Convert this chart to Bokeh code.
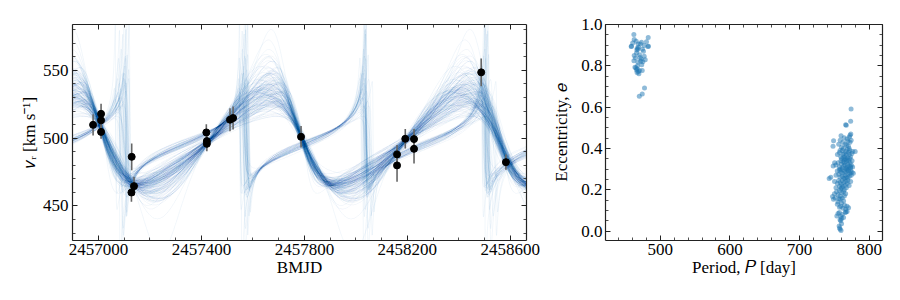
import numpy as np
from bokeh.plotting import figure
from bokeh.layouts import row
from bokeh.models import Range1d, LinearAxis, FixedTicker, PrintfTickFormatter, ColumnDataSource
from bokeh.embed import file_html
from bokeh.resources import INLINE

# ---------------- data ----------------
bmjd = [2456979, 2457010, 2457010, 2457010, 2457128, 2457129, 2457138,
        2457419, 2457421, 2457421, 2457511, 2457523, 2457787, 2458160,
        2458160, 2458192, 2458226, 2458226, 2458487, 2458583]
rv = [509.8, 517.9, 513.1, 504.6, 459.9, 486.2, 464.6,
      504.2, 497.8, 495.8, 513.6, 514.8, 501.0, 488.0,
      479.9, 499.5, 499.3, 492.1, 548.5, 482.3]
rv_err = [7.8, 7.5, 6.0, 5.0, 6.9, 9.9, 6.9,
          6.0, 5.0, 5.5, 8.5, 8.5, 8.0, 7.0,
          12.0, 7.2, 7.5, 10.9, 10.2, 5.6]

# posterior samples, long-period family
period_a = [773.9, 773.3, 766.1, 767.0, 759.5, 772.4, 771.5, 764.0, 773.5, 748.8, 748.0, 779.8, 758.3,
            762.1, 765.4, 768.2, 770.1, 772.3, 774.0, 760.2, 763.1, 767.4, 769.2, 771.1, 756.2,
            754.3, 757.2, 759.1, 761.4, 762.3, 764.2, 765.1, 766.4, 767.2, 768.3, 769.4, 770.2,
            771.3, 772.1, 773.2, 775.1, 760.3, 763.4, 766.2, 758.1, 776.2,
            752.1, 755.3, 757.1, 759.4, 760.1, 761.2, 762.4, 763.2, 764.3, 765.2, 766.3, 767.1,
            768.4, 769.1, 770.3, 771.2, 772.4, 773.1, 774.2, 775.3, 776.1, 758.4, 764.1, 768.1,
            770.4, 772.2, 748.2, 750.3,
            742.5, 744.8, 752.3, 754.1, 756.3, 758.2, 759.3, 760.4, 761.1, 762.2, 763.3, 764.4,
            765.3, 766.1, 767.3, 768.2, 769.3, 770.1, 771.4, 772.3, 773.2, 774.1, 757.3, 765.1,
            767.2, 769.1, 775.2, 777.1, 773.4,
            752.2, 754.2, 756.1, 757.4, 758.3, 759.2, 760.1, 761.3, 762.1, 763.4, 764.2, 765.3,
            766.2, 767.1, 768.3, 769.2, 771.1, 773.3, 750.2, 760.4,
            748.7, 747.3, 750.1, 751.2, 753.1, 755.2, 756.4, 757.2, 758.1, 760.3, 761.2, 763.1,
            764.3, 766.1, 758.4,
            754.2, 755.1, 757.3, 759.2, 760.1, 762.3, 763.2, 764.5, 770.3, 768.1, 766.2,
            753.5, 755.2, 757.1, 759.3, 761.2, 763.1, 765.5, 766.5, 768.2, 758.1, 760.2,
            758.2, 756.8, 759.1, 757.5, 760.2, 759.5]
ecc_a = [0.591, 0.531, 0.515, 0.512, 0.461, 0.464, 0.455, 0.452, 0.470, 0.437, 0.410, 0.385, 0.440,
         0.430, 0.420, 0.445, 0.410, 0.430, 0.440, 0.405, 0.400, 0.415, 0.435, 0.400, 0.420,
         0.370, 0.380, 0.360, 0.390, 0.370, 0.375, 0.360, 0.385, 0.370, 0.395, 0.355, 0.380,
         0.370, 0.390, 0.360, 0.375, 0.350, 0.355, 0.350, 0.390, 0.385,
         0.320, 0.330, 0.310, 0.340, 0.325, 0.305, 0.335, 0.315, 0.345, 0.320, 0.305, 0.335,
         0.310, 0.325, 0.340, 0.315, 0.330, 0.305, 0.320, 0.340, 0.310, 0.300, 0.330, 0.345,
         0.300, 0.350, 0.315, 0.330,
         0.254, 0.260, 0.270, 0.290, 0.275, 0.260, 0.285, 0.295, 0.265, 0.280, 0.255, 0.290,
         0.270, 0.285, 0.260, 0.295, 0.275, 0.290, 0.265, 0.280, 0.290, 0.270, 0.295, 0.255,
         0.300, 0.255, 0.285, 0.280, 0.310,
         0.210, 0.230, 0.245, 0.215, 0.235, 0.205, 0.225, 0.245, 0.215, 0.235, 0.200, 0.220,
         0.240, 0.210, 0.230, 0.245, 0.220, 0.240, 0.240, 0.210,
         0.154, 0.167, 0.180, 0.160, 0.190, 0.175, 0.155, 0.195, 0.170, 0.185, 0.160, 0.190,
         0.170, 0.180, 0.155,
         0.130, 0.140, 0.115, 0.120, 0.135, 0.110, 0.145, 0.125, 0.113, 0.120, 0.105,
         0.073, 0.085, 0.090, 0.070, 0.080, 0.065, 0.089, 0.092, 0.095, 0.055, 0.060,
         0.008, 0.024, 0.050, 0.015, 0.035, 0.003]

# posterior samples, short-period family
period_b = [462.2, 462.7, 465.6, 473.2, 480.3, 482.8, 458.8, 467.0, 468.0, 466.5, 469.0, 476.0,
            482.3, 477.0, 462.7, 470.3, 477.0, 472.7, 462.3, 468.0, 478.5, 463.7, 467.0, 470.3,
            465.0, 469.4, 474.2, 477.5, 474.2, 470.0, 458.4, 471.5, 474.5, 466.0, 464.5, 472.0,
            466.8, 468.5, 475.0, 460.5, 483.2, 468.2, 471.0, 467.5, 473.5, 466.0]
ecc_b = [0.951, 0.927, 0.919, 0.914, 0.917, 0.937, 0.895, 0.885, 0.880, 0.876, 0.890, 0.870,
         0.893, 0.898, 0.850, 0.853, 0.846, 0.833, 0.825, 0.817, 0.829, 0.793, 0.785, 0.777,
         0.790, 0.761, 0.777, 0.693, 0.663, 0.652, 0.893, 0.905, 0.880, 0.862, 0.838, 0.822,
         0.768, 0.772, 0.820, 0.910, 0.895, 0.905, 0.840, 0.800, 0.805, 0.780]

x_ticks_rv = [2457000, 2457400, 2457800, 2458200, 2458600]
y_ticks_rv = [450, 500, 550]
x_ticks_pe = [500, 600, 700, 800]
y_ticks_pe = [0.0, 0.2, 0.4, 0.6, 0.8, 1.0]

FONT = "Liberation Serif"
FS = "17px"
BLUE = "#1f77b4"
AXC = "#222222"

# ---------------- Keplerian model curves for each posterior sample ----------------
t_obs = np.array(bmjd, dtype=float)
y_obs = np.array(rv, dtype=float)
w_obs = 1.0 / np.array(rv_err, dtype=float) ** 2
T_REF = 2457800.0


def true_anomaly(M, e):
    M = np.mod(M + np.pi, 2 * np.pi) - np.pi
    E = M + 0.85 * e * np.sign(np.sin(M))
    for _ in range(40):
        E = E - (E - e * np.sin(E) - M) / (1 - e * np.cos(E))
    return 2 * np.arctan2(np.sqrt(1 + e) * np.sin(E / 2), np.sqrt(1 - e) * np.cos(E / 2))


S = w_obs.sum()
Sy = (w_obs * y_obs).sum()
Syy = (w_obs * y_obs ** 2).sum()


def chi2_grid(P, e, om_grid, m0_grid):
    """K and v0 are solved linearly for every (omega, M0) pair."""
    M = 2 * np.pi * (t_obs - T_REF) / P + m0_grid[:, None]
    nu = true_anomaly(M, e)
    f = np.cos(nu[None] + om_grid[:, None, None]) + e * np.cos(om_grid)[:, None, None]
    Sf = (f * w_obs).sum(-1)
    Sff = (f * f * w_obs).sum(-1)
    Sfy = (f * w_obs * y_obs).sum(-1)
    det = S * Sff - Sf ** 2
    K = (S * Sfy - Sf * Sy) / det
    v0 = (Sy - K * Sf) / S
    chi2 = Syy - 2 * v0 * Sy - 2 * K * Sfy + v0 ** 2 * S + 2 * v0 * K * Sf + K ** 2 * Sff
    chi2 = np.where(np.isfinite(chi2), chi2, np.inf)
    return chi2, K, v0


def pick(chi2, u):
    """Deterministic inverse-CDF choice of a grid cell from the likelihood surface."""
    p = np.exp(-(chi2 - chi2.min()) / 2).ravel()
    cdf = np.cumsum(p)
    k = min(int(np.searchsorted(cdf, u * cdf[-1])), p.size - 1)
    return np.unravel_index(k, chi2.shape)


om_coarse = np.linspace(0, np.pi, 90, endpoint=False)
m0_coarse = np.linspace(0, 2 * np.pi, 180, endpoint=False)
half = np.deg2rad(1.0)
GOLD = 0.6180339887498949
SILV = 0.4142135623730950

t_min, t_max = 2456899.0, 2458663.0
tt = np.linspace(t_min, t_max, 1800)
xs, ys = [], []
for n, (P, e) in enumerate(zip(period_a + period_b, ecc_a + ecc_b)):
    u1 = (0.5 + n * GOLD) % 1.0
    u2 = (0.5 + n * SILV) % 1.0
    chi2, K, v0 = chi2_grid(P, e, om_coarse, m0_coarse)
    i, j = pick(chi2, u1)
    om_f = om_coarse[i] + np.linspace(-half, half, 9)
    m0_f = m0_coarse[j] + np.linspace(-half, half, 9)
    chi2, K, v0 = chi2_grid(P, e, om_f, m0_f)
    i, j = pick(chi2, u2)
    om, m0, Kb, vb = om_f[i], m0_f[j], K[i, j], v0[i, j]
    nu = true_anomaly(2 * np.pi * (tt - T_REF) / P + m0, e)
    v = vb + Kb * (np.cos(nu + om) + e * np.cos(om))
    xs.append(tt.astype(np.float32))
    ys.append(v.astype(np.float32))


# ---------------- styling helpers ----------------
def base_style(p):
    p.outline_line_color = None
    p.xgrid.visible = False
    p.ygrid.visible = False
    p.background_fill_color = "white"
    p.border_fill_color = "white"


def axis_style(ax, ticks, minor, fmt, show=True, standoff=4, label_standoff=3):
    ax.ticker = FixedTicker(ticks=ticks, minor_ticks=minor)
    ax.formatter = PrintfTickFormatter(format=fmt)
    ax.axis_line_color = AXC
    ax.axis_line_width = 1.2
    ax.major_tick_line_color = AXC
    ax.major_tick_line_width = 1
    ax.minor_tick_line_color = AXC
    ax.minor_tick_line_width = 0.8
    ax.major_tick_in = 5
    ax.major_tick_out = 0
    ax.minor_tick_in = 3
    ax.minor_tick_out = 0
    ax.major_label_text_font = FONT
    ax.major_label_text_font_size = FS
    ax.major_label_text_color = "black"
    ax.major_label_standoff = standoff
    ax.axis_label_text_font = FONT
    ax.axis_label_text_font_size = FS
    ax.axis_label_text_font_style = "normal"
    ax.axis_label_text_color = "black"
    ax.axis_label_standoff = label_standoff
    if not show:
        ax.major_label_text_color = None
        ax.major_label_text_font_size = "1px"
        ax.major_label_standoff = 0


# ---------------- left panel: RV curves ----------------
p1 = figure(width=548, height=292, x_range=Range1d(t_min, t_max), y_range=Range1d(424.5, 583.8),
            output_backend="svg", toolbar_location=None,
            min_border_left=72, min_border_right=22, min_border_top=24, min_border_bottom=52)
base_style(p1)
p1.multi_line(xs=xs, ys=ys, line_color=BLUE, line_alpha=0.08, line_width=0.8)

src = ColumnDataSource(dict(t=t_obs, rv=y_obs,
                            lo=y_obs - np.array(rv_err), hi=y_obs + np.array(rv_err)))
p1.segment(x0="t", y0="lo", x1="t", y1="hi", source=src, line_color="#666666", line_width=1.6)
p1.scatter(x="t", y="rv", source=src, size=7, fill_color="black", line_color="black")

x_minor_rv = list(range(2456900, 2458700, 100))
y_minor_rv = list(range(430, 590, 10))
axis_style(p1.xaxis[0], x_ticks_rv, x_minor_rv, "%d", standoff=3, label_standoff=0)
axis_style(p1.yaxis[0], y_ticks_rv, y_minor_rv, "%d", standoff=4, label_standoff=1)
p1.xaxis[0].axis_label = "BMJD"
p1.yaxis[0].axis_label = "\U0001D463ᵣ [km s⁻¹]"
top1 = LinearAxis()
axis_style(top1, x_ticks_rv, x_minor_rv, "%d", show=False)
p1.add_layout(top1, "above")
right1 = LinearAxis()
axis_style(right1, y_ticks_rv, y_minor_rv, "%d", show=False)
p1.add_layout(right1, "right")

# ---------------- right panel: period vs eccentricity ----------------
p2 = figure(width=344, height=292, x_range=Range1d(421.5, 819.0), y_range=Range1d(-0.046, 1.0),
            output_backend="svg", toolbar_location=None,
            min_border_left=57, min_border_right=10, min_border_top=24, min_border_bottom=52)
base_style(p2)
p2.scatter(x=period_a + period_b, y=ecc_a + ecc_b, size=5, fill_color=BLUE, fill_alpha=0.5,
           line_color=None)

x_minor_pe = list(range(420, 821, 20))
y_minor_pe = [round(0.05 * k, 2) for k in range(0, 21)]
axis_style(p2.xaxis[0], x_ticks_pe, x_minor_pe, "%d", standoff=3, label_standoff=0)
axis_style(p2.yaxis[0], y_ticks_pe, y_minor_pe, "%.1f", standoff=3, label_standoff=7)
p2.xaxis[0].axis_label = "Period, \U0001D443 [day]"
p2.yaxis[0].axis_label = "Eccentricity, \U0001D452"
top2 = LinearAxis()
axis_style(top2, x_ticks_pe, x_minor_pe, "%d", show=False)
p2.add_layout(top2, "above")
right2 = LinearAxis()
axis_style(right2, y_ticks_pe, y_minor_pe, "%.1f", show=False)
p2.add_layout(right2, "right")

layout = row(p1, p2)
open("out.html", "w").write(file_html(layout, INLINE))
